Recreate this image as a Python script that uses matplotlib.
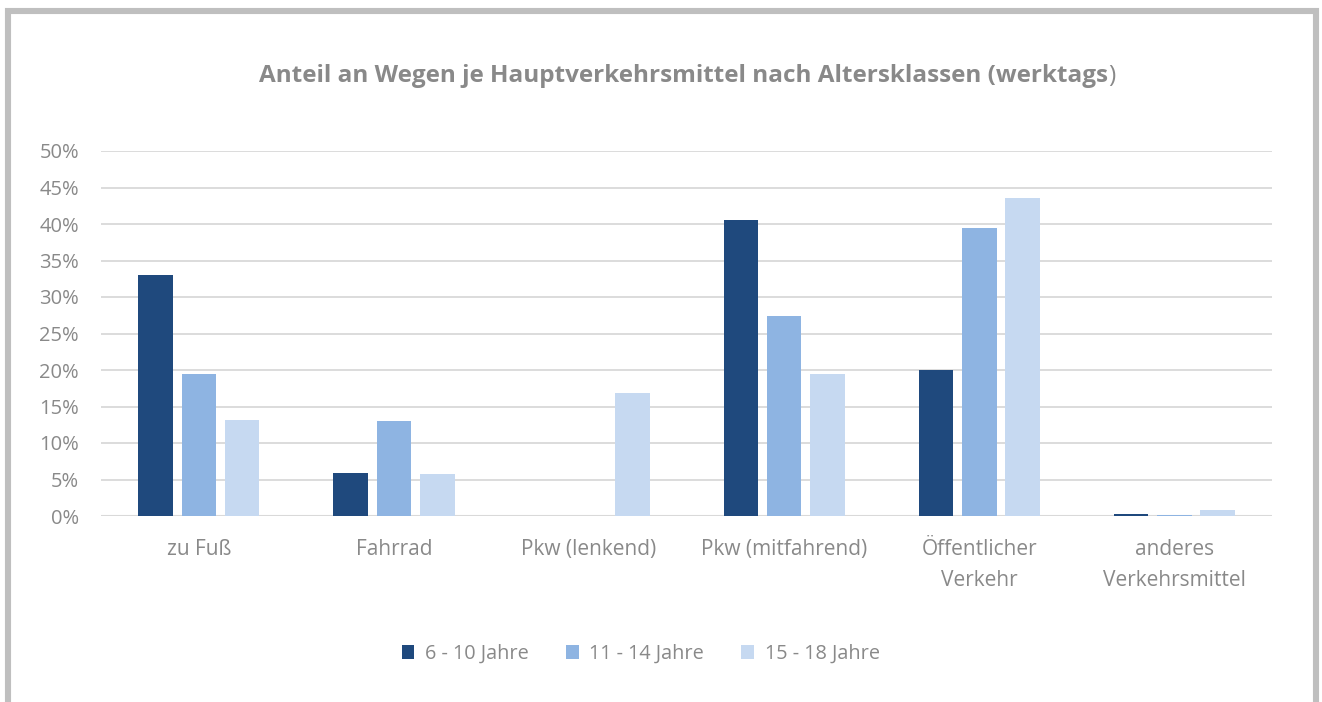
import matplotlib
matplotlib.use("Agg")
import matplotlib.pyplot as plt
import numpy as np
from matplotlib.patches import Patch, Rectangle
from matplotlib.ticker import PercentFormatter, MultipleLocator

categories = ["zu Fuß", "Fahrrad", "Pkw (lenkend)", "Pkw (mitfahrend)",
              "Öffentlicher\nVerkehr", "anderes\nVerkehrsmittel"]
series_names = ["6 - 10 Jahre", "11 - 14 Jahre", "15 - 18 Jahre"]
age_6_10 = [33.0, 5.9, 0.0, 40.5, 20.0, 0.3]
age_11_14 = [19.4, 13.0, 0.0, 27.4, 39.5, 0.15]
age_15_18 = [13.2, 5.7, 16.9, 19.5, 43.5, 0.8]
colors = ["#1F497D", "#8EB4E2", "#C6D9F1"]

TEXT_GREY = "#898989"
FONT = "Open Sans"

fig = plt.figure(figsize=(13.22, 7.02), dpi=100)
fig.patch.set_facecolor("white")

# Outer frame (open at the bottom edge)
frame = Rectangle((8 / 1322, -0.05), (1316 - 8) / 1322, (702 - 11) / 702 + 0.05,
                  transform=fig.transFigure, fill=False, edgecolor="#BFBFBF",
                  linewidth=4.4, zorder=0)
fig.add_artist(frame)

ax = fig.add_axes([101.3 / 1322, (702 - 516) / 702, 1170.7 / 1322, 365 / 702])

x = np.arange(len(categories))
bar_w = 0.177
step = 0.222
for i, (vals, name, col) in enumerate(zip([age_6_10, age_11_14, age_15_18], series_names, colors)):
    ax.bar(x + (i - 1) * step, vals, width=bar_w, color=col, label=name, zorder=3)

ax.set_xlim(-0.5, len(categories) - 0.5)
ax.set_ylim(0, 50)
ax.yaxis.set_major_locator(MultipleLocator(5))
ax.yaxis.set_major_formatter(PercentFormatter(decimals=0))
ax.grid(axis="y", color="#D9D9D9", linewidth=1.3, zorder=0)
ax.set_axisbelow(True)
for s in ax.spines.values():
    s.set_visible(False)
ax.axhline(0, color="#D9D9D9", linewidth=1.5, zorder=2)

ax.set_xticks(x)
ax.set_xticklabels(categories, fontfamily=FONT, fontsize=15, color=TEXT_GREY, linespacing=1.6)
ax.tick_params(axis="x", length=0, pad=16.5)
ax.tick_params(axis="y", length=0, pad=16, labelsize=14.5, labelcolor=TEXT_GREY)
for lbl in ax.get_yticklabels():
    lbl.set_fontfamily(FONT)

# Title: bold text with a regular closing parenthesis
title_x = 1108 / 1322
title_y = (702 - 76) / 702
fig.text(title_x, title_y, "Anteil an Wegen je Hauptverkehrsmittel nach Altersklassen (werktags",
         ha="right", va="center", fontsize=17.5, fontweight="bold", color=TEXT_GREY, fontfamily=FONT)
fig.text(title_x, title_y, ")", ha="left", va="center", fontsize=17.5,
         color=TEXT_GREY, fontfamily=FONT)

handles = [Patch(facecolor=c, edgecolor="none") for c in colors]
leg = fig.legend(handles, series_names, loc="center left",
                 bbox_to_anchor=(401.7 / 1322, (702 - 654) / 702), ncol=3,
                 frameon=False, borderpad=0, borderaxespad=0,
                 handlelength=0.64, handleheight=0.64, handletextpad=0.55,
                 columnspacing=1.85, prop={"family": FONT, "size": 14.3})
for t in leg.get_texts():
    t.set_color(TEXT_GREY)

fig.savefig("out.png", dpi=100, facecolor="white")
